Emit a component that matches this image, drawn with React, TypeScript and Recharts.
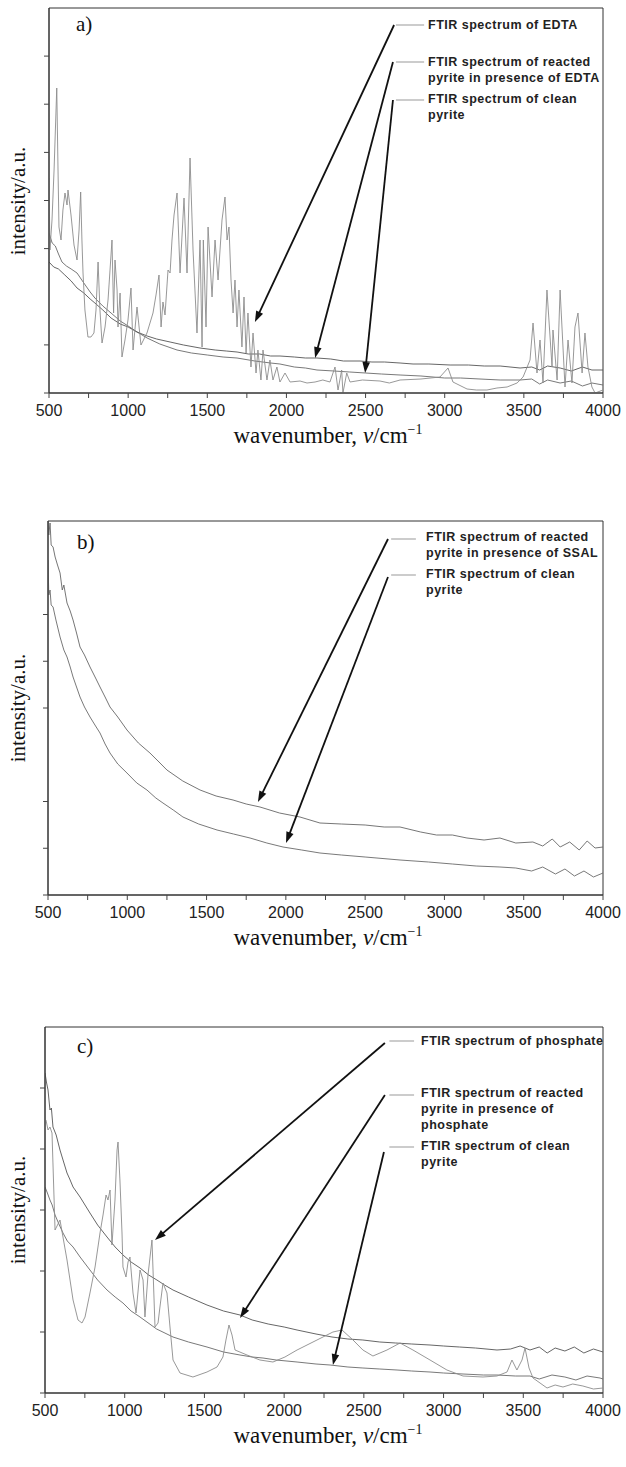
import React from 'react'
import { LineChart, Line, XAxis, YAxis, ReferenceLine, ReferenceArea } from 'recharts'

type Pt = [number, number]

// wavenumber ticks (labels only on the 500s)
const xTicks = [500, 750, 1000, 1250, 1500, 1750, 2000, 2250, 2500, 2750, 3000, 3250, 3500, 3750, 4000]

// ---- panel a) EDTA ----
const edtaSpectrum: Pt[] = [
  [500, 215], [506, 143], [519, 173], [532, 223], [549, 305], [557, 223], [563, 166], [576, 153], [588, 183],
  [601, 200], [614, 188], [620, 203], [639, 178], [658, 148], [677, 133], [690, 163], [700, 201], [708, 153],
  [715, 120], [727, 83], [746, 56], [765, 56], [784, 60], [797, 83], [810, 131], [822, 83], [835, 50], [854, 66],
  [873, 93], [898, 153], [908, 80], [917, 133], [930, 103], [936, 66], [949, 100], [961, 36], [980, 53], [999, 73],
  [1018, 105], [1031, 43], [1056, 86], [1081, 48], [1119, 60], [1157, 80], [1176, 98], [1195, 118], [1208, 66],
  [1220, 91], [1233, 78], [1252, 123], [1265, 120], [1277, 153], [1290, 178], [1309, 200], [1328, 120], [1353, 195],
  [1372, 120], [1391, 235], [1410, 143], [1435, 60], [1454, 153], [1467, 46], [1475, 153], [1492, 66], [1505, 166],
  [1530, 96], [1549, 153], [1568, 113], [1593, 173], [1612, 196], [1625, 153], [1637, 166], [1650, 113], [1663, 80],
  [1675, 113], [1688, 66], [1700, 103], [1719, 46], [1732, 96], [1745, 40], [1757, 80], [1776, 26], [1789, 60],
  [1808, 20], [1820, 43], [1839, 13], [1852, 43], [1877, 13], [1896, 33], [1915, 13], [1940, 26], [1959, 11],
  [1991, 20], [2023, 11], [2086, 12], [2130, 10], [2181, 11], [2230, 13], [2275, 11], [2307, 26], [2326, 3],
  [2349, 23], [2357, 0], [2381, 20], [2402, 11], [2480, 13], [2591, 12], [2650, 10], [2718, 13], [2850, 14],
  [2970, 16], [3021, 25], [3052, 11], [3141, 4], [3200, 3], [3267, 3], [3330, 5], [3394, 6], [3457, 10], [3495, 16],
  [3539, 33], [3558, 70], [3583, 20], [3602, 53], [3621, 10], [3646, 103], [3678, 26], [3684, 63], [3710, 13],
  [3729, 103], [3760, 6], [3779, 53], [3804, 10], [3823, 66], [3842, 80], [3868, 20], [3886, 60], [3905, 26],
  [3930, 6], [3950, 0], [4000, 3],
]
const edtaReacted: Pt[] = [
  [500, 131], [530, 126], [560, 124], [600, 118], [640, 112], [677, 105], [720, 100], [760, 94], [790, 90], [840, 83],
  [892, 75], [950, 69], [1000, 66], [1056, 61], [1120, 57], [1180, 54], [1265, 51], [1350, 48], [1454, 45], [1550, 43],
  [1620, 42], [1688, 41], [1760, 39], [1830, 39], [1900, 37], [1959, 37], [2050, 36], [2120, 35], [2193, 35],
  [2280, 34], [2360, 32], [2465, 32], [2540, 31], [2620, 31], [2718, 30], [2800, 29], [2900, 29], [3034, 28],
  [3150, 28], [3250, 27], [3350, 27], [3476, 25], [3550, 26], [3600, 23], [3650, 27], [3729, 25], [3800, 22],
  [3870, 26], [3930, 23], [4000, 23],
]
const edtaClean: Pt[] = [
  [500, 160], [520, 150], [540, 147], [560, 139], [582, 131], [610, 127], [640, 124], [677, 120], [720, 110],
  [760, 101], [790, 95], [840, 87], [892, 80], [950, 72], [1000, 67], [1056, 61], [1120, 55], [1200, 49], [1309, 43],
  [1400, 40], [1500, 38], [1600, 36], [1688, 35], [1800, 32], [1900, 30], [1959, 29], [2050, 26], [2120, 25],
  [2193, 23], [2300, 22], [2400, 21], [2500, 20], [2600, 19], [2718, 18], [2850, 17], [3000, 15], [3100, 15],
  [3223, 14], [3350, 13], [3476, 13], [3550, 14], [3600, 9], [3650, 13], [3729, 10], [3800, 12], [3870, 7],
  [3930, 10], [4000, 8],
]

// ---- panel b) SSAL ----
const ssalReacted: Pt[] = [
  [500, 374], [505, 360], [513, 372], [520, 350], [532, 348], [545, 338], [560, 330], [576, 322], [590, 305],
  [600, 310], [620, 292], [640, 284], [658, 275], [680, 262], [702, 248], [730, 240], [765, 228], [800, 217],
  [828, 208], [860, 198], [891, 188], [940, 178], [998, 165], [1070, 152], [1143, 142], [1200, 133], [1250, 125],
  [1350, 114], [1459, 105], [1560, 99], [1667, 95], [1750, 91], [1837, 88], [1960, 82], [2089, 78], [2215, 72],
  [2350, 71], [2500, 70], [2620, 68], [2720, 68], [2850, 63], [2950, 60], [3050, 60], [3142, 57], [3250, 55],
  [3350, 57], [3450, 52], [3558, 53], [3620, 49], [3680, 56], [3730, 48], [3790, 53], [3850, 45], [3900, 54],
  [3950, 47], [4000, 48],
]
const ssalClean: Pt[] = [
  [500, 335], [505, 300], [513, 305], [520, 290], [532, 288], [550, 275], [576, 258], [600, 245], [620, 238],
  [640, 228], [658, 218], [680, 208], [702, 198], [730, 188], [765, 178], [800, 169], [828, 162], [860, 151],
  [891, 142], [940, 131], [998, 122], [1060, 112], [1124, 105], [1180, 97], [1225, 92], [1290, 85], [1351, 78],
  [1450, 71], [1566, 65], [1670, 61], [1774, 57], [1880, 52], [1982, 48], [2100, 45], [2215, 42], [2350, 40],
  [2500, 38], [2720, 35], [2900, 33], [3050, 31], [3200, 29], [3350, 28], [3450, 27], [3550, 24], [3620, 28],
  [3700, 21], [3760, 26], [3820, 19], [3880, 24], [3940, 18], [4000, 22],
]

// ---- panel c) phosphate ----
const phosSpectrum: Pt[] = [
  [506, 273], [519, 263], [531, 266], [544, 260], [563, 163], [594, 173], [638, 133], [676, 93], [707, 73], [732, 70],
  [751, 76], [782, 100], [814, 126], [845, 160], [864, 178], [883, 198], [895, 193], [908, 203], [920, 148],
  [939, 193], [952, 243], [958, 251], [970, 213], [983, 160], [989, 126], [1008, 116], [1021, 131], [1033, 136],
  [1052, 100], [1071, 80], [1096, 123], [1115, 113], [1127, 76], [1146, 118], [1171, 153], [1190, 66], [1209, 70],
  [1221, 86], [1240, 110], [1265, 100], [1284, 66], [1303, 33], [1347, 20], [1428, 16], [1516, 21], [1579, 26],
  [1616, 36], [1635, 53], [1654, 68], [1673, 58], [1692, 43], [1767, 38], [1848, 33], [1930, 31], [2005, 36],
  [2081, 43], [2206, 53], [2306, 61], [2363, 63], [2432, 53], [2494, 43], [2557, 37], [2645, 43], [2727, 50],
  [2808, 43], [2915, 33], [3021, 23], [3122, 17], [3247, 16], [3335, 17], [3398, 21], [3429, 33], [3460, 23],
  [3492, 33], [3511, 45], [3536, 25], [3561, 15], [3605, 10], [3649, 5], [3700, 8], [3749, 6], [3810, 9],
  [3874, 7], [3940, 4], [4000, 5],
]
const phosReacted: Pt[] = [
  [500, 320], [510, 310], [519, 303], [531, 283], [540, 285], [550, 266], [570, 258], [594, 243], [615, 232],
  [638, 220], [655, 214], [676, 206], [720, 196], [782, 180], [830, 168], [889, 156], [940, 146], [989, 138],
  [1040, 131], [1096, 125], [1150, 118], [1202, 113], [1250, 108], [1303, 103], [1400, 96], [1516, 88], [1620, 82],
  [1723, 78], [1800, 73], [1900, 69], [2000, 66], [2081, 63], [2200, 59], [2300, 56], [2400, 54], [2494, 53],
  [2600, 51], [2700, 50], [2800, 49], [2915, 48], [3000, 47], [3100, 46], [3200, 45], [3335, 43], [3420, 44],
  [3480, 47], [3542, 43], [3600, 46], [3650, 40], [3700, 45], [3761, 42], [3820, 46], [3880, 40], [3940, 44],
  [4000, 41],
]
const phosClean: Pt[] = [
  [500, 206], [515, 200], [531, 193], [545, 188], [563, 178], [590, 168], [613, 160], [640, 152], [676, 146],
  [720, 136], [782, 123], [830, 113], [889, 103], [940, 96], [989, 90], [1040, 82], [1096, 76], [1200, 64],
  [1303, 56], [1400, 51], [1516, 46], [1620, 41], [1723, 38], [1800, 36], [1867, 35], [1950, 33], [2081, 31],
  [2200, 29], [2288, 28], [2400, 26], [2494, 25], [2600, 24], [2708, 23], [2800, 22], [2915, 21], [3000, 20],
  [3122, 19], [3250, 18], [3335, 18], [3450, 17], [3542, 17], [3600, 14], [3680, 18], [3761, 16], [3830, 13],
  [3900, 17], [3981, 15], [4000, 14],
]

const toRows = (pts: Pt[]) => pts.map(([w, v]) => ({ w, v }))

const SANS = '"Liberation Sans", Arial, sans-serif'
const SERIF = '"Liberation Serif", "Times New Roman", serif'

// arrow drawn from label end (first point) to the curve (second point)
const Arrow = (props: any) => {
  const { x1, y1, x2, y2 } = props
  const dx = x2 - x1
  const dy = y2 - y1
  const len = Math.hypot(dx, dy) || 1
  const ux = dx / len
  const uy = dy / len
  const hl = 11
  const hw = 3.8
  const bx = x2 - ux * hl
  const by = y2 - uy * hl
  return (
    <g>
      <line x1={x1} y1={y1} x2={bx + ux * 2} y2={by + uy * 2} stroke="#111" strokeWidth={1.8} />
      <polygon
        points={`${x2},${y2} ${bx - uy * hw},${by + ux * hw} ${bx + uy * hw},${by - ux * hw}`}
        fill="#111"
      />
    </g>
  )
}

// x tick: small mark under the axis, label on the 500s only
const XTick = (props: any) => {
  const { x, y, payload } = props
  const v = payload.value as number
  return (
    <g>
      <line x1={x} y1={y} x2={x} y2={y + 5} stroke="#444" strokeWidth={1} />
      {v % 500 === 0 && (
        <text x={x} y={y + 23} textAnchor="middle" fill="#222" fontSize={16} fontFamily={SANS}>{v}</text>
      )}
    </g>
  )
}

// y tick: small mark left of the axis, no label
const YTick = (props: any) => {
  const { x, y } = props
  return <line x1={x - 5} y1={y} x2={x} y2={y} stroke="#444" strokeWidth={1} />
}

interface Series { data: Pt[]; color: string }
interface Note { x: number; y: number; lines: string[] }
interface PanelProps {
  top: number
  plotTop: number
  plotBottom: number
  plotLeft: number
  yMax: number
  yTicks: number[]
  series: Series[]
  arrows: [number, number, number, number][]
  keyLines: [number, number, number][]
  notes: Note[]
  tag: string
  tagX: number
  tagY: number
}

function Panel(p: PanelProps) {
  const W = 626
  const H = 470
  const axisH = 30
  const yW = 10
  const margin = {
    top: p.plotTop - p.top,
    left: p.plotLeft - yW,
    right: W - 603,
    bottom: H - (p.plotBottom - p.top) - axisH,
  }
  const midY = (p.plotTop + p.plotBottom) / 2 - p.top
  return (
    <div style={{ position: 'absolute', left: 0, top: p.top, width: W, height: H }}>
      <LineChart width={W} height={H} margin={margin}>
        <XAxis
          type="number"
          dataKey="w"
          domain={[500, 4000]}
          ticks={xTicks}
          interval={0}
          allowDataOverflow
          height={axisH}
          tickSize={0}
          tickMargin={0}
          tickLine={false}
          stroke="#333"
          tick={XTick}
        />
        <YAxis
          type="number"
          domain={[0, p.yMax]}
          ticks={p.yTicks}
          interval={0}
          width={yW}
          tickSize={0}
          tickMargin={0}
          tickLine={false}
          tick={YTick}
          stroke="#333"
          allowDataOverflow
        />
        <ReferenceArea x1={500} x2={4000} y1={0} y2={p.yMax} fill="none" stroke="#333" strokeWidth={1} />
        {p.series.map((s, i) => (
          <Line
            key={i}
            data={toRows(s.data)}
            dataKey="v"
            type="linear"
            stroke={s.color}
            strokeWidth={0.9}
            dot={false}
            activeDot={false}
            isAnimationActive={false}
          />
        ))}
        {p.keyLines.map(([x1, x2, y], i) => (
          <ReferenceLine key={'k' + i} segment={[{ x: x1, y }, { x: x2, y }]} stroke="#999" strokeWidth={1} />
        ))}
        {p.arrows.map(([x1, y1, x2, y2], i) => (
          <ReferenceLine key={'a' + i} segment={[{ x: x1, y: y1 }, { x: x2, y: y2 }]} shape={Arrow} />
        ))}
      </LineChart>
      {p.notes.map((n, i) => (
        <div
          key={i}
          style={{
            position: 'absolute', left: n.x, top: n.y - p.top - 8, fontFamily: SANS, fontWeight: 'bold',
            fontSize: 12.5, lineHeight: '16px', color: '#222', whiteSpace: 'nowrap', letterSpacing: 0.5,
          }}
        >
          {n.lines.map((l, j) => <div key={j}>{l}</div>)}
        </div>
      ))}
      <div style={{ position: 'absolute', left: p.tagX, top: p.tagY - p.top, fontFamily: SERIF, fontSize: 21, color: '#111' }}>
        {p.tag}
      </div>
      <div
        style={{
          position: 'absolute', left: 18, top: midY, transform: 'translate(-50%, -50%) rotate(-90deg)',
          fontFamily: SERIF, fontSize: 21, color: '#111', whiteSpace: 'nowrap',
        }}
      >
        intensity/a.u.
      </div>
      <div
        style={{
          position: 'absolute', left: 0, width: W, textAlign: 'center', paddingLeft: 30, boxSizing: 'border-box',
          top: p.plotBottom - p.top + 29, fontFamily: SERIF, fontSize: 23, color: '#111',
        }}
      >
        wavenumber, <i>ν</i>/cm<sup style={{ fontSize: 14 }}>−1</sup>
      </div>
    </div>
  )
}

export default function App() {
  return (
    <div style={{ position: 'absolute', left: 0, top: 0, width: 626, height: 1467, background: '#fff' }}>
      <Panel
        top={0}
        plotTop={8}
        plotBottom={393}
        plotLeft={49}
        yMax={385}
        yTicks={[0, 48.1, 144.4, 192.5, 240.6, 288.8, 336.9]}
        series={[
          { data: edtaClean, color: '#6a6a6a' },
          { data: edtaReacted, color: '#555' },
          { data: edtaSpectrum, color: '#8c8c8c' },
        ]}
        arrows={[
          [2680, 368, 1801, 71],
          [2673, 331, 2181, 35],
          [2673, 293, 2497, 20],
        ]}
        keyLines={[[2692, 2870, 368], [2692, 2870, 331], [2692, 2870, 293]]}
        notes={[
          { x: 428, y: 25, lines: ['FTIR spectrum of EDTA'] },
          { x: 428, y: 62, lines: ['FTIR spectrum of reacted', 'pyrite in presence of EDTA'] },
          { x: 428, y: 99, lines: ['FTIR spectrum of clean', 'pyrite'] },
        ]}
        tag="a)"
        tagX={76}
        tagY={12}
      />
      <Panel
        top={480}
        plotTop={521}
        plotBottom={895}
        plotLeft={48}
        yMax={374}
        yTicks={[0, 46.75, 93.5, 187, 233.75, 280.5]}
        series={[
          { data: ssalClean, color: '#6a6a6a' },
          { data: ssalReacted, color: '#666' },
        ]}
        arrows={[
          [2644, 356, 1824, 93],
          [2644, 318, 2001, 52],
        ]}
        keyLines={[[2664, 2820, 356], [2664, 2820, 320]]}
        notes={[
          { x: 426, y: 537, lines: ['FTIR spectrum of reacted', 'pyrite in presence of SSAL'] },
          { x: 426, y: 574, lines: ['FTIR spectrum of clean', 'pyrite'] },
        ]}
        tag="b)"
        tagX={77}
        tagY={530}
      />
      <Panel
        top={980}
        plotTop={1027}
        plotBottom={1393}
        plotLeft={45}
        yMax={366}
        yTicks={[0, 61, 122, 183, 244, 305]}
        series={[
          { data: phosClean, color: '#6a6a6a' },
          { data: phosReacted, color: '#555' },
          { data: phosSpectrum, color: '#8c8c8c' },
        ]}
        arrows={[
          [2632, 350, 1190, 153],
          [2632, 298, 1723, 75],
          [2626, 241, 2306, 28],
        ]}
        keyLines={[[2660, 2815, 352], [2660, 2815, 298], [2660, 2815, 246]]}
        notes={[
          { x: 421, y: 1041, lines: ['FTIR spectrum of phosphate'] },
          { x: 421, y: 1093, lines: ['FTIR spectrum of reacted', 'pyrite in presence of', 'phosphate'] },
          { x: 421, y: 1146, lines: ['FTIR spectrum of clean', 'pyrite'] },
        ]}
        tag="c)"
        tagX={77}
        tagY={1034}
      />
    </div>
  )
}
